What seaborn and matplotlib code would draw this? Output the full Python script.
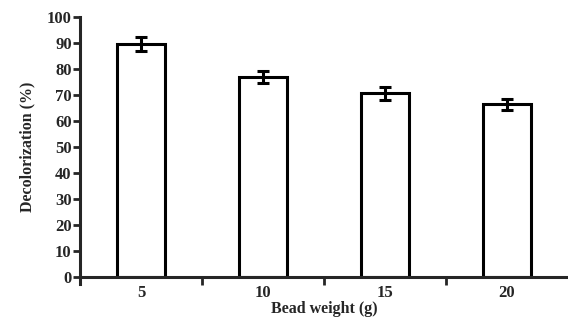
import matplotlib
matplotlib.use("Agg")
import matplotlib.pyplot as plt
import seaborn as sns
import pandas as pd

bead_weight = ["5", "10", "15", "20"]
decolorization = [89.7, 77.0, 70.7, 66.5]
error = [2.8, 2.2, 2.4, 2.2]

sns.set_style("ticks")
plt.rcParams["font.family"] = ["Liberation Serif", "DejaVu Serif"]
plt.rcParams["font.weight"] = "bold"

df = pd.DataFrame({"weight": bead_weight, "dec": decolorization})

fig = plt.figure(figsize=(5.68, 3.21), dpi=100)
ax = fig.add_axes([0.1408, 0.138, 0.859, 0.808])

sns.barplot(data=df, x="weight", y="dec", color="white", edgecolor="black",
            linewidth=2.2, width=0.4, ax=ax, errorbar=None, saturation=1)

centers = [p.get_x() + p.get_width() / 2 for p in ax.patches]
ax.errorbar(centers, decolorization, yerr=error, fmt="none", ecolor="black",
            elinewidth=2.2, capsize=4.5, capthick=2.2, zorder=5)

ax.set_xlim(-0.5, 3.5)
ax.set_ylim(0, 100)
ax.set_yticks(range(0, 101, 10))
ax.set_xticks(range(4))
ax.set_xticklabels(bead_weight)
ax.set_xticks([-0.5, 0.5, 1.5, 2.5], minor=True)
ax.tick_params(axis="x", which="major", length=0, pad=6, labelsize=12)
ax.tick_params(axis="x", which="minor", length=6, width=2, direction="out")
ax.tick_params(axis="y", length=5, width=2, direction="out", pad=1, labelsize=12)
for lbl in ax.get_xticklabels() + ax.get_yticklabels():
    lbl.set_fontweight("bold")

ax.spines["top"].set_visible(False)
ax.spines["right"].set_visible(False)
for s in ("left", "bottom"):
    ax.spines[s].set_linewidth(2.2)
ax.spines["left"].set_bounds(-3, 100)

ax.set_xlabel("Bead weight (g)", fontsize=11.5, fontweight="bold", labelpad=0)
ax.set_ylabel("Decolorization (%)", fontsize=11.5, fontweight="bold", labelpad=8)

fig.savefig("out.png", dpi=100)
